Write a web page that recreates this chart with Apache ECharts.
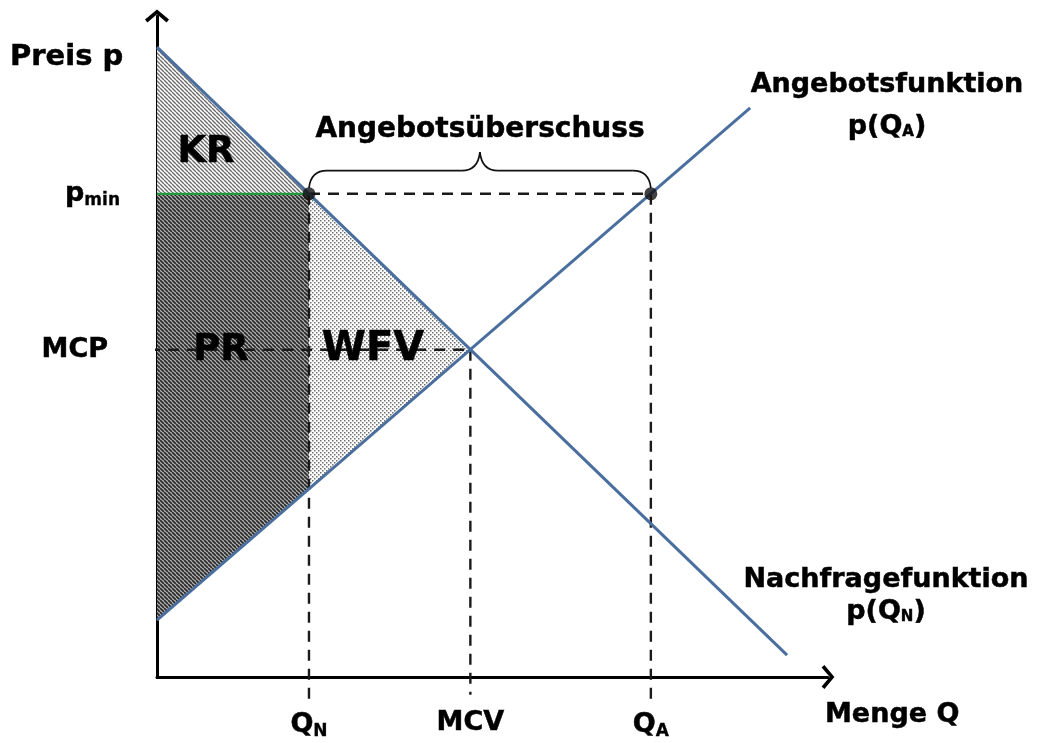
<!DOCTYPE html>
<html>
<head>
<meta charset="utf-8">
<script src="https://cdn.jsdelivr.net/npm/echarts@6/dist/echarts.min.js"></script>
<style>
  html, body { margin: 0; padding: 0; background: #fff; }
  #chart { width: 1047px; height: 743px; }
</style>
</head>
<body>
<div id="chart"></div>
<script>
// Mindestpreis: Nachfrage / Angebot
const demandLine = [[0, 95.3], [93.9, 3.3]];
const supplyLine = [[0, 8.6], [88.4, 86.1]];
const qN = 22.65, qA = 73.6, mcv = 46.7;
const pMin = 73.1, mcp = 49.5;
const supplyAtQN = 28.5;

const krArea = [[0, 95.3], [qN, pMin], [0, pMin]];
const prArea = [[0, pMin], [qN, pMin], [qN, supplyAtQN], [0, 8.6]];
const wfvArea = [[qN, pMin], [mcv, mcp], [qN, supplyAtQN]];
const minPricePoints = [[qN, pMin], [qA, pMin]];

const xTicks = [qN, mcv, qA];
const xTickLabels = ['{b|Q}{s|N}', '{b|MCV}', '{b|Q}{s|A}'];
const yTicks = [mcp, pMin];
const yTickLabels = ['{b|MCP}{pad|}', '{b|p}{s|min}'];

// dashed guide lines (start/end in data units)
const guides = [
  [[-3.0, pMin], [-0.4, pMin]],
  [[qN, pMin], [qA, pMin]],
  [[-4.0, mcp], [mcv, mcp]],
  [[qN, pMin], [qN, -3.5]],
  [[mcv, mcp], [mcv, -2.7]],
  [[qA, pMin], [qA, -3.5]]
];
const greenLine = [[0, pMin], [qN, pMin]];
// brace: ends, flat level, tip
const braceLevels = [74.0, 76.6, 79.4];

const FONT = '"DejaVu Sans", Verdana, sans-serif';

function hatch(bg, fg, size, lw, flip) {
  const c = document.createElement('canvas');
  c.width = c.height = size;
  const g = c.getContext('2d');
  g.fillStyle = bg;
  g.fillRect(0, 0, size, size);
  g.strokeStyle = fg;
  g.lineWidth = lw;
  for (const o of [-size, 0, size]) {
    g.beginPath();
    if (flip) { g.moveTo(o, 0); g.lineTo(o + size, size); }
    else { g.moveTo(o, size); g.lineTo(o + size, 0); }
    g.stroke();
  }
  return { image: c, repeat: 'repeat' };
}

function dots(bg, fg, size) {
  const c = document.createElement('canvas');
  c.width = c.height = size;
  const g = c.getContext('2d');
  g.fillStyle = bg;
  g.fillRect(0, 0, size, size);
  g.fillStyle = fg;
  g.fillRect(0, 0, 1.5, 1.5);
  g.fillRect(size / 2, size / 2, 1.5, 1.5);
  return { image: c, repeat: 'repeat' };
}

function areaSeries(points, fill) {
  return {
    type: 'custom',
    silent: true,
    z: 1,
    data: [[0, 0]],
    renderItem: (params, api) => ({
      type: 'polygon',
      shape: { points: points.map(p => api.coord(p)) },
      style: { fill: fill, stroke: null }
    })
  };
}

const chart = echarts.init(document.getElementById('chart'));

const subRich = {
  b: { fontFamily: FONT, fontWeight: 'bold', fontSize: 27, color: '#000', textBorderColor: '#000', textBorderWidth: 0.5 },
  s: { fontFamily: FONT, fontWeight: 'bold', fontSize: 17, color: '#000', textBorderColor: '#000', textBorderWidth: 0.3, padding: [14, 0, 0, 0] },
  pad: { width: 12 }
};

const series = [
  areaSeries(krArea, hatch('#ffffff', '#6e6e6e', 4, 1.4, true)),
  areaSeries(prArea, hatch('#b4b4b4', '#2a2a2a', 4, 1.7, true)),
  areaSeries(wfvArea, dots('#ffffff', '#707070', 4))
];

guides.forEach(g => series.push({
  type: 'line', data: g, symbol: 'none', silent: true, clip: false, z: 2,
  lineStyle: { color: '#1a1a1a', width: 2.4, type: [11, 8] }
}));

series.push({
  type: 'line', data: greenLine, symbol: 'none', silent: true, z: 3,
  lineStyle: { color: '#1f9a3c', width: 2.2 }
});

series.push({
  type: 'line', data: demandLine, symbol: 'none', silent: true, z: 4,
  lineStyle: { color: '#4a6f9f', width: 3 }
});
series.push({
  type: 'line', data: supplyLine, symbol: 'none', silent: true, z: 4,
  lineStyle: { color: '#4a6f9f', width: 3 }
});

series.push({
  type: 'scatter', data: minPricePoints, symbolSize: 13, silent: true, z: 5,
  itemStyle: { color: '#111' }
});

// curly brace over the surplus
series.push({
  type: 'custom', silent: true, z: 5, data: [[0, 0]],
  renderItem: (params, api) => {
    const a = api.coord([qN, braceLevels[0]]);
    const b = api.coord([qA, braceLevels[0]]);
    const yl = api.coord([qN, braceLevels[1]])[1];
    const yt = api.coord([qN, braceLevels[2]])[1];
    const xm = (a[0] + b[0]) / 2;
    const r = 18;
    const st = { stroke: '#111', lineWidth: 1.7, fill: null };
    return {
      type: 'group',
      children: [
        { type: 'bezierCurve', shape: { x1: a[0], y1: a[1], cpx1: a[0] + 2, cpy1: yl, x2: a[0] + r, y2: yl }, style: st },
        { type: 'line', shape: { x1: a[0] + r, y1: yl, x2: xm - r, y2: yl }, style: st },
        { type: 'bezierCurve', shape: { x1: xm - r, y1: yl, cpx1: xm - 2, cpy1: yl, x2: xm, y2: yt }, style: st },
        { type: 'bezierCurve', shape: { x1: xm, y1: yt, cpx1: xm + 2, cpy1: yl, x2: xm + r, y2: yl }, style: st },
        { type: 'line', shape: { x1: xm + r, y1: yl, x2: b[0] - r, y2: yl }, style: st },
        { type: 'bezierCurve', shape: { x1: b[0] - r, y1: yl, cpx1: b[0] - 2, cpy1: yl, x2: b[0], y2: b[1] }, style: st }
      ]
    };
  }
});

const arrow = 'path://M-12,10 L0,0 L12,10 L9.6,12.8 L0,4.6 L-9.6,12.8 Z';

const txt = (x, y, text, size, align) => ({
  type: 'text', x: x, y: y, z: 100,
  style: {
    text: text, align: align || 'center', verticalAlign: 'middle',
    font: 'bold ' + size + 'px ' + FONT, fill: '#000',
    stroke: '#000', lineWidth: 0.5,
    rich: {
      s: { font: 'bold 15px ' + FONT, fill: '#000', padding: [11, 0, 0, 0] }
    }
  }
});

chart.setOption({
  animation: false,
  backgroundColor: '#fff',
  grid: { left: 157, right: 219, top: 16, bottom: 66 },
  xAxis: {
    type: 'value', min: 0, max: 100,
    splitLine: { show: false },
    axisTick: { show: false },
    axisLine: {
      onZero: false,
      lineStyle: { color: '#000', width: 3 },
      symbol: ['none', arrow], symbolSize: [24, 15]
    },
    axisLabel: {
      customValues: xTicks,
      margin: 32,
      formatter: (v) => xTickLabels[xTicks.indexOf(v)] || '',
      rich: subRich
    }
  },
  yAxis: {
    type: 'value', min: 0, max: 100,
    splitLine: { show: false },
    axisTick: { show: false },
    axisLine: {
      onZero: false,
      lineStyle: { color: '#000', width: 3 },
      symbol: ['none', arrow], symbolSize: [24, 15]
    },
    axisLabel: {
      customValues: yTicks,
      margin: 37,
      formatter: (v) => yTickLabels[yTicks.indexOf(v)] || '',
      rich: subRich
    }
  },
  graphic: [
    txt(10, 57, 'Preis p', 29, 'left'),
    txt(825, 715, 'Menge Q', 27, 'left'),
    txt(887, 85, 'Angebotsfunktion', 27),
    txt(887, 127, 'p(Q{s|A})', 27),
    txt(886, 580, 'Nachfragefunktion', 27),
    txt(886, 612, 'p(Q{s|N})', 27),
    txt(480, 130, 'Angebotsüberschuss', 28),
    txt(206, 152, 'KR', 37),
    txt(221, 350, 'PR', 37),
    txt(373, 350, 'WFV', 40)
  ],
  series: series
});
</script>
</body>
</html>
